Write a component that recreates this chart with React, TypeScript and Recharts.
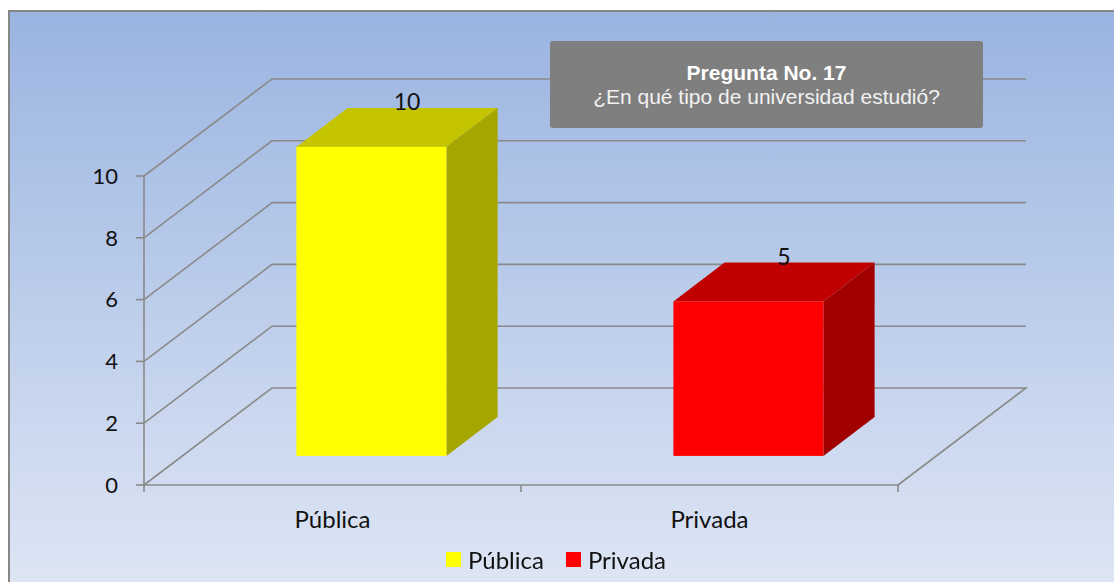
import { BarChart, Bar, XAxis, YAxis, CartesianGrid, Legend, LabelList, Cell } from "recharts";

const categories = ["Pública", "Privada"];
const counts = [10, 5];
const yTicks = [0, 2, 4, 6, 8, 10];

const frontColors = ["#ffff00", "#ff0000"];
const topColors = ["#c4c400", "#c00000"];
const sideColors = ["#a6a600", "#a00000"];

const data = categories.map((name, i) => ({ name, value: counts[i] }));

// geometry of the fake 3d box (svg coords)
const W = 1100;
const H = 570;
const PLOT_LEFT = 134;
const PLOT_TOP = 164;
const PLOT_BOTTOM = 473;
const PLOT_RIGHT = 888;
const DX = 128; // depth of the floor
const DY = 97;
const Y_AXIS_W = 60;
const X_AXIS_H = 40;
const PLOT_W = PLOT_RIGHT - PLOT_LEFT;
const HALF_BAND = PLOT_W / categories.length / 2;

const GRID = "#8a8a8a";
const FONT = "Lato, 'Open Sans', sans-serif";

const gridLine = (p: any) => {
  const { x1, y1, x2 } = p;
  const bx = x1 + DX;
  const by = y1 - DY;
  const isFloor = Math.abs(y1 - PLOT_BOTTOM) < 1;
  const pts = isFloor
    ? `${x1},${y1} ${bx},${by} ${x2 + DX},${by} ${x2},${y1}`
    : `${x1},${y1} ${bx},${by} ${x2 + DX},${by}`;
  return <polyline key={`g-${y1}`} points={pts} fill="none" stroke={GRID} strokeWidth={1.6} />;
};

const Box3D = (props: any) => {
  const { x, y, width, height, payload } = props;
  const i = categories.indexOf(payload?.name);
  const ox = DX * 0.3;
  const oy = DY * 0.3;
  const dx = DX * 0.4;
  const dy = DY * 0.4;
  const fx = x + ox;
  const fy = y - oy;
  const w = width;
  const h = height;
  return (
    <g>
      <polygon
        points={`${fx},${fy} ${fx + dx},${fy - dy} ${fx + w + dx},${fy - dy} ${fx + w},${fy}`}
        fill={topColors[i]}
      />
      <polygon
        points={`${fx + w},${fy} ${fx + w + dx},${fy - dy} ${fx + w + dx},${fy + h - dy} ${fx + w},${fy + h}`}
        fill={sideColors[i]}
      />
      <rect x={fx} y={fy} width={w} height={h} fill={frontColors[i]} />
    </g>
  );
};

const ValueLabel = (props: any) => {
  const { x, y, width, value } = props;
  const cx = x + width / 2 + DX * 0.3 + DX * 0.2 + 10;
  const by = y - DY * 0.3 - DY * 0.4 + 2;
  return (
    <text x={cx} y={by} textAnchor="middle" fontSize={23} fontFamily={FONT} fill="#111">
      {value}
    </text>
  );
};

const CategoryTick = (props: any) => {
  const { x, payload, index } = props;
  const y0 = PLOT_BOTTOM;
  return (
    <g>
      <line x1={x - HALF_BAND} y1={y0} x2={x - HALF_BAND} y2={y0 + 7} stroke={GRID} strokeWidth={1.6} />
      {index === categories.length - 1 && (
        <line x1={x + HALF_BAND} y1={y0} x2={x + HALF_BAND} y2={y0 + 7} stroke={GRID} strokeWidth={1.6} />
      )}
      <text x={x} y={y0 + 43} textAnchor="middle" fontSize={24} fontFamily={FONT} fill="#111">
        {payload.value}
      </text>
    </g>
  );
};

const LegendContent = () => (
  <div style={{ display: "flex", justifyContent: "center", alignItems: "center", fontFamily: FONT, fontSize: 24, color: "#111" }}>
    {categories.map((c, i) => (
      <span key={c} style={{ display: "flex", alignItems: "center", marginRight: i === 0 ? 22 : 0 }}>
        <span style={{ width: 15, height: 15, background: frontColors[i], display: "inline-block", marginRight: 7 }} />
        {c}
      </span>
    ))}
  </div>
);

export default function App() {
  return (
    <div style={{ position: "fixed", left: 8, top: 8, width: 1106, height: 574, overflow: "hidden" }}>
      <div
        style={{
          position: "absolute",
          left: 0,
          top: 2,
          width: 1120,
          height: 600,
          border: "2px solid #878787",
          background: "linear-gradient(to bottom, #9ab4e1 0%, #e1e8f5 100%)",
        }}
      >
        <div style={{ position: "absolute", left: 0, top: 0 }}>
          <BarChart
            width={W}
            height={H}
            data={data}
            margin={{ top: PLOT_TOP, left: PLOT_LEFT - Y_AXIS_W, right: W - PLOT_RIGHT, bottom: H - PLOT_BOTTOM - X_AXIS_H }}
          >
            <CartesianGrid vertical={false} horizontal={gridLine} />
            <XAxis
              dataKey="name"
              height={X_AXIS_H}
              axisLine={{ stroke: GRID, strokeWidth: 1.6 }}
              tickLine={false}
              tick={<CategoryTick />}
              interval={0}
            />
            <YAxis
              width={Y_AXIS_W}
              domain={[0, 10]}
              ticks={yTicks}
              interval={0}
              axisLine={{ stroke: GRID, strokeWidth: 1.6 }}
              tickLine={{ stroke: GRID, strokeWidth: 1.6 }}
              tickSize={8}
              tickMargin={18}
              tick={{ fontSize: 22, fontFamily: FONT, fill: "#111" }}
            />
            <Legend
              layout="horizontal"
              verticalAlign="middle"
              align="center"
              content={<LegendContent />}
              wrapperStyle={{ top: 533, left: -4, width: W }}
            />
            <Bar dataKey="value" barSize={150} shape={<Box3D />} isAnimationActive={false}>
              {data.map((d, i) => (
                <Cell key={d.name} fill={frontColors[i]} />
              ))}
              <LabelList dataKey="value" content={<ValueLabel />} />
            </Bar>
          </BarChart>
        </div>
        <div
          style={{
            position: "absolute",
            left: 540,
            top: 29,
            width: 433,
            height: 87,
            background: "#7f7f7f",
            borderRadius: 3,
            color: "#fff",
            fontFamily: "'Liberation Sans', Arial, sans-serif",
            fontSize: 21,
            lineHeight: "24px",
            textAlign: "center",
            boxSizing: "border-box",
            paddingTop: 20,
          }}
        >
          <div style={{ fontWeight: "bold" }}>Pregunta No. 17</div>
          <div style={{ color: "#f2f2f2" }}>¿En qué tipo de universidad estudió?</div>
        </div>
      </div>
    </div>
  );
}
